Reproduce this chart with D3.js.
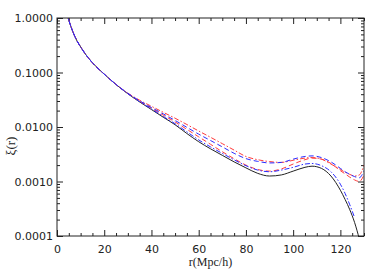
<!DOCTYPE html>
<html>
<head>
<meta charset="utf-8">
<script src="https://cdn.jsdelivr.net/npm/d3@7/dist/d3.min.js"></script>
<style>
  body { margin: 0; background: #fff; }
  svg { display: block; }
  .tick text { font-family: "DejaVu Sans", sans-serif; font-size: 11px; fill: #222; }
</style>
</head>
<body>
<div id="field"></div>
<script>
'use strict';

// r in Mpc/h
const rVals = [4, 5, 6, 8, 10, 12, 15, 20, 25, 30, 35, 40, 45, 50, 55, 60, 65, 70, 75, 80,
               85, 90, 95, 100, 105, 108, 112, 116, 120, 122, 124, 126, 128, 130];

// xi(r) curves
const xiBlack = [1.32, 0.912, 0.676, 0.417, 0.295, 0.219, 0.151, 0.0933, 0.0603, 0.0407, 0.0288, 0.0209, 0.0151, 0.0110, 0.00759, 0.00537, 0.00398, 0.00302, 0.00229, 0.00178,
                 0.00141, 0.00126, 0.00132, 0.00155, 0.00182, 0.00191, 0.00174, 0.00126, 0.000692, 0.000468, 0.000302, 0.000178, 0.0000891, null];
const xiBlueDashDot = [1.32, 0.912, 0.676, 0.417, 0.295, 0.219, 0.151, 0.0933, 0.0603, 0.0410, 0.0292, 0.0214, 0.0156, 0.0115, 0.00815, 0.00580, 0.00432, 0.00328, 0.00250, 0.00195,
                       0.00162, 0.00151, 0.00162, 0.00182, 0.00209, 0.00214, 0.00195, 0.00151, 0.000891, 0.000603, 0.000372, 0.000219, null, null];
const xiRedDashed = [1.32, 0.912, 0.676, 0.417, 0.295, 0.219, 0.151, 0.0933, 0.0603, 0.0412, 0.0296, 0.0221, 0.0165, 0.0124, 0.00905, 0.00660, 0.00482, 0.00352, 0.00262, 0.00200,
                     0.00166, 0.00155, 0.00170, 0.00209, 0.00251, 0.00269, 0.00257, 0.00214, 0.00158, 0.00138, 0.00120, 0.00107, 0.00100, 0.00132];
const xiBlueDashed = [1.32, 0.912, 0.676, 0.417, 0.295, 0.219, 0.151, 0.0933, 0.0603, 0.0415, 0.0302, 0.0228, 0.0174, 0.0132, 0.00985, 0.00740, 0.00565, 0.00432, 0.00329, 0.00263,
                      0.00234, 0.00219, 0.00224, 0.00257, 0.00288, 0.00295, 0.00275, 0.00229, 0.00174, 0.00151, 0.00135, 0.00123, 0.00117, 0.00158];
const xiRedDashDot = [1.32, 0.912, 0.676, 0.417, 0.295, 0.219, 0.151, 0.0933, 0.0603, 0.0418, 0.0310, 0.0240, 0.0186, 0.0145, 0.0111, 0.00845, 0.00648, 0.00495, 0.00377, 0.00288,
                      0.00251, 0.00232, 0.00224, 0.00245, 0.00269, 0.00275, 0.00257, 0.00209, 0.00166, 0.00148, 0.00135, 0.00126, 0.00132, 0.00200];

const xTicks = [0, 20, 40, 60, 80, 100, 120];
const yTicks = [0.0001, 0.001, 0.01, 0.1, 1];

function XiPlot(setting) {
  let w = setting.w, h = setting.h,
      L = 57, R = 364, T = 18, B = 236,
      x = d3.scaleLinear().domain([0, 130]).range([L, R]),
      y = d3.scaleLog().domain([0.0001, 1]).range([B, T]),
      svg = d3.select('#field').append('svg').attr('width', w).attr('height', h);

  svg.append('clipPath').attr('id', 'clip').append('rect')
    .attr('x', L).attr('y', T).attr('width', R - L).attr('height', B - T);

  let xMinor = d3.range(0, 131, 5).filter(function(v){ return v % 20 !== 0; }),
      yMinor = [];
  for (let e = -4; e < 0; e++) for (let m = 2; m <= 9; m++) yMinor.push(m * Math.pow(10, e));

  function axis(gen, tx, ty) {
    let g = svg.append('g').attr('transform', 'translate(' + tx + ',' + ty + ')').call(gen);
    g.select('.domain').remove();
    g.selectAll('line').attr('stroke', '#222');
    return g;
  }

  axis(d3.axisBottom(x).tickValues(xTicks).tickFormat(d3.format('d')).tickSize(-6).tickPadding(9), 0, B);
  axis(d3.axisBottom(x).tickValues(xMinor).tickFormat('').tickSize(-3), 0, B);
  axis(d3.axisTop(x).tickValues(xTicks).tickFormat('').tickSize(-6), 0, T);
  axis(d3.axisTop(x).tickValues(xMinor).tickFormat('').tickSize(-3), 0, T);
  axis(d3.axisLeft(y).tickValues(yTicks).tickFormat(d3.format('.4f')).tickSize(-6).tickPadding(4), L, 0);
  axis(d3.axisLeft(y).tickValues(yMinor).tickFormat('').tickSize(-3), L, 0);
  axis(d3.axisRight(y).tickValues(yTicks).tickFormat('').tickSize(-6), R, 0);
  axis(d3.axisRight(y).tickValues(yMinor).tickFormat('').tickSize(-3), R, 0);

  let series = [
    { v: xiBlack, color: '#222', dash: null },
    { v: xiRedDashed, color: '#ff3b3b', dash: '5,3' },
    { v: xiRedDashDot, color: '#ff3b3b', dash: '5,2,1.5,2' },
    { v: xiBlueDashDot, color: '#2a2aff', dash: '5,2,1.5,2' },
    { v: xiBlueDashed, color: '#2a2aff', dash: '5,3' }
  ];

  let line = d3.line()
    .defined(function(d){ return d[1] !== null; })
    .x(function(d){ return x(d[0]); })
    .y(function(d){ return y(d[1]); })
    .curve(d3.curveMonotoneX);

  svg.append('g').attr('clip-path', 'url(#clip)').selectAll('path').data(series).enter().append('path')
    .attr('d', function(s){ return line(rVals.map(function(r, i){ return [r, s.v[i]]; })); })
    .attr('fill', 'none')
    .attr('stroke', function(s){ return s.color; })
    .attr('stroke-width', 1)
    .attr('stroke-dasharray', function(s){ return s.dash; });

  svg.append('rect').attr('x', L).attr('y', T).attr('width', R - L).attr('height', B - T)
    .attr('fill', 'none').attr('stroke', '#222').attr('stroke-width', 1);

  svg.append('text').text('r(Mpc/h)')
    .attr('x', (L + R) / 2).attr('y', 266).attr('text-anchor', 'middle')
    .attr('font-family', '"Liberation Serif", serif').attr('font-size', 12).attr('fill', '#222');

  svg.append('text').text('ξ(r)')
    .attr('transform', 'translate(15,146) rotate(-90)').attr('text-anchor', 'middle')
    .attr('font-family', '"Liberation Serif", serif').attr('font-size', 13).attr('fill', '#222');
}

let xiPlot = new XiPlot({
  w: 382,
  h: 273
});
</script>
</body>
</html>
